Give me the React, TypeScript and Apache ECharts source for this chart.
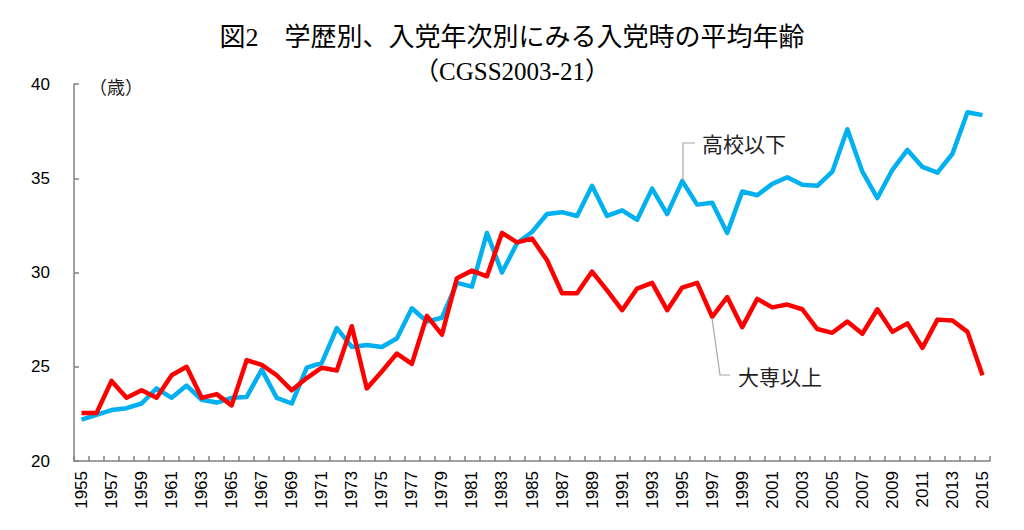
import React, { useEffect, useRef } from "react";
import * as echarts from "echarts";

const years: string[] = [];
for (let y = 1955; y <= 2015; y++) years.push(String(y));

const highSchoolOrBelow = [
  22.2, 22.45, 22.7, 22.8, 23.05, 23.85, 23.35, 24.0, 23.25, 23.1,
  23.35, 23.4, 24.85, 23.35, 23.05, 24.95, 25.2, 27.05, 26.05, 26.15,
  26.05, 26.5, 28.1, 27.4, 27.6, 29.45, 29.25, 32.1, 30.0, 31.55,
  32.15, 33.1, 33.2, 33.0, 34.6, 33.0, 33.3, 32.8, 34.45, 33.1,
  34.85, 33.6, 33.7, 32.1, 34.3, 34.1, 34.7, 35.05, 34.65, 34.6,
  35.35, 37.6, 35.35, 33.95, 35.45, 36.5, 35.6, 35.3, 36.3, 38.5,
  38.35,
];

const collegeOrAbove = [
  22.55, 22.55, 24.25, 23.35, 23.75, 23.35, 24.55, 25.0, 23.35, 23.55,
  22.95, 25.35, 25.1, 24.55, 23.75, 24.4, 24.95, 24.8, 27.15, 23.85,
  24.75, 25.7, 25.15, 27.7, 26.7, 29.7, 30.1, 29.8, 32.1, 31.6,
  31.8, 30.65, 28.9, 28.9, 30.05, 29.05, 28.0, 29.15, 29.45, 28.0,
  29.2, 29.45, 27.65, 28.7, 27.1, 28.6, 28.15, 28.3, 28.05, 27.0,
  26.8, 27.4, 26.75, 28.05, 26.85, 27.3, 26.0, 27.5, 27.45, 26.85,
  24.55,
];

const seriesNames = ["高校以下", "大専以上"];
const titleText = "図2　学歴別、入党年次別にみる入党時の平均年齢";
const subtitleText = "（CGSS2003-21）";
const unitText = "（歳）";

export default function App() {
  const ref = useRef<HTMLDivElement>(null);
  useEffect(() => {
    if (!ref.current) return;
    const chart = echarts.init(ref.current, null, { renderer: "svg" });
    const axisColor = "#808080";
    const leaderColor = "#a6a6a6";
    chart.setOption({
      animation: false,
      backgroundColor: "#ffffff",
      grid: { left: 74, right: 34, top: 84, bottom: 69, containLabel: false },
      xAxis: {
        type: "category",
        data: years,
        boundaryGap: true,
        axisLine: { show: true, lineStyle: { color: axisColor, width: 1.5 } },
        axisTick: { show: true, inside: true, length: 5, interval: 0, lineStyle: { color: axisColor, width: 1.5 } },
        axisLabel: {
          interval: 1,
          rotate: 90,
          margin: 10,
          fontSize: 17,
          color: "#000",
          fontFamily: "'Liberation Sans', Arial, sans-serif",
        },
        splitLine: { show: false },
      },
      yAxis: {
        type: "value",
        min: 20,
        max: 40,
        interval: 5,
        axisLine: { show: true, lineStyle: { color: axisColor, width: 1.5 } },
        axisTick: { show: true, inside: true, length: 5, lineStyle: { color: axisColor, width: 1.5 } },
        axisLabel: {
          margin: 24,
          fontSize: 17,
          color: "#000",
          fontFamily: "'Liberation Sans', Arial, sans-serif",
        },
        splitLine: { show: false },
      },
      series: [
        {
          name: seriesNames[0],
          type: "line",
          data: highSchoolOrBelow,
          showSymbol: false,
          symbol: "none",
          lineStyle: { color: "#00b0f0", width: 4.5, join: "round" },
          itemStyle: { color: "#00b0f0" },
          z: 2,
        },
        {
          name: seriesNames[1],
          type: "line",
          data: collegeOrAbove,
          showSymbol: false,
          symbol: "none",
          lineStyle: { color: "#ff0000", width: 4.5, join: "round" },
          itemStyle: { color: "#ff0000" },
          z: 3,
        },
      ],
      graphic: [
        {
          type: "text",
          left: "center",
          top: 24,
          style: {
            text: titleText,
            fontSize: 26,
            fill: "#000",
            fontFamily: "'Liberation Serif', 'Noto Sans CJK JP', serif",
          },
        },
        {
          type: "text",
          left: "center",
          top: 59,
          style: {
            text: subtitleText,
            fontSize: 25,
            fill: "#000",
            fontFamily: "'Liberation Serif', 'Noto Sans CJK JP', serif",
          },
        },
        {
          type: "text",
          x: 89,
          y: 86,
          style: {
            text: unitText,
            fontSize: 18,
            fill: "#222",
            verticalAlign: "middle",
            fontFamily: "'Noto Sans CJK JP', sans-serif",
          },
        },
        {
          type: "polyline",
          shape: { points: [[683, 180], [683, 143], [695, 143]] },
          style: { stroke: leaderColor, lineWidth: 1.2, fill: "none" },
          z: 10,
        },
        {
          type: "text",
          x: 702,
          y: 143,
          style: {
            text: seriesNames[0],
            fontSize: 21,
            fill: "#222",
            verticalAlign: "middle",
            fontFamily: "'Noto Sans CJK JP', sans-serif",
          },
        },
        {
          type: "polyline",
          shape: { points: [[712, 318], [720, 375], [730, 375]] },
          style: { stroke: leaderColor, lineWidth: 1.2, fill: "none" },
          z: 10,
        },
        {
          type: "text",
          x: 738,
          y: 376,
          style: {
            text: seriesNames[1],
            fontSize: 21,
            fill: "#222",
            verticalAlign: "middle",
            fontFamily: "'Noto Sans CJK JP', sans-serif",
          },
        },
      ],
    });
    return () => chart.dispose();
  }, []);
  return (
    <div
      ref={ref}
      style={{ position: "fixed", left: 0, top: 0, width: 1024, height: 530 }}
    />
  );
}
